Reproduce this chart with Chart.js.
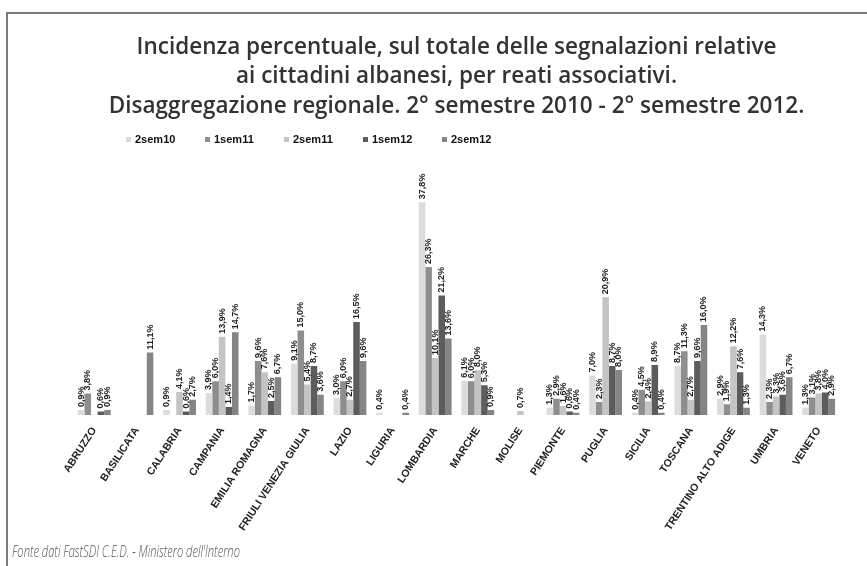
<!DOCTYPE html>
<html>
<head>
<meta charset="utf-8">
<script src="https://cdn.jsdelivr.net/npm/chart.js@4.4.0/dist/chart.umd.min.js"></script>
<style>
  body { margin: 0; background: #fff; }
  #wrap { position: relative; width: 867px; height: 566px; overflow: hidden; }
  #frame { position: absolute; left: 6px; top: 12px; width: 900px; height: 600px;
           border-top: 2px solid #7a7a7a; border-left: 2px solid #7a7a7a; }
  #legend { position: absolute; left: 126px; top: 133px; display: flex; }
  #legend .item { width: 79px; display: flex; align-items: center;
                  font: bold 11px "Liberation Sans", Arial, sans-serif; color: #111; }
  #legend .box { width: 5px; height: 5px; margin-right: 4px; }
  #source { position: absolute; left: 12px; top: 540px; color: #555;
            font: italic 300 16px "Open Sans", sans-serif; transform-origin: left top;
            transform: scaleX(0.695); white-space: nowrap; }
  canvas { position: absolute; left: 0; top: 0; }
</style>
</head>
<body>
<div id="wrap">
  <div id="frame"></div>
  <canvas id="chart" width="867" height="566"></canvas>
  <div id="legend"></div>
  <div id="source">Fonte dati FastSDI C.E.D. - Ministero dell'Interno</div>
</div>
<script>
// ---- DATA ----
const regions = ["ABRUZZO", "BASILICATA", "CALABRIA", "CAMPANIA", "EMILIA ROMAGNA",
  "FRIULI VENEZIA GIULIA", "LAZIO", "LIGURIA", "LOMBARDIA", "MARCHE", "MOLISE",
  "PIEMONTE", "PUGLIA", "SICILIA", "TOSCANA", "TRENTINO ALTO ADIGE", "UMBRIA", "VENETO"];

const seriesNames = ["2sem10", "1sem11", "2sem11", "1sem12", "2sem12"];

const sem2_10 = [0.9, 0, 0.9, 3.9, 1.7, 9.1, 3.0, 0.4, 37.8, 6.1, 0, 1.3, 7.0, 0.4, 8.7, 2.9, 14.3, 1.3];
const sem1_11 = [3.8, 0, 0, 6.0, 9.6, 15.0, 6.0, 0, 26.3, 6.0, 0, 2.9, 2.3, 4.5, 11.3, 1.9, 2.3, 3.1];
const sem2_11 = [0, 0, 4.1, 13.9, 7.6, 5.4, 2.7, 0, 10.1, 8.0, 0.7, 1.6, 20.9, 2.4, 2.7, 12.2, 3.3, 3.8];
const sem1_12 = [0.6, 0, 0.6, 1.4, 2.5, 8.7, 16.5, 0, 21.2, 5.3, 0, 0.6, 8.7, 8.9, 9.6, 7.6, 3.6, 4.0];
const sem2_12 = [0.9, 11.1, 2.7, 14.7, 6.7, 3.6, 9.6, 0.4, 13.6, 0.9, 0, 0.4, 8.0, 0.4, 16.0, 1.3, 6.7, 2.9];

const seriesColors = ["#dcdcdc", "#8e8e8e", "#c4c4c4", "#5c5c5c", "#858585"];

const allSeries = [sem2_10, sem1_11, sem2_11, sem1_12, sem2_12];

// ---- LEGEND ----
const legend = document.getElementById("legend");
seriesNames.forEach((name, i) => {
  legend.innerHTML += `<div class="item"><span class="box" style="background:${seriesColors[i]}"></span>${name}</div>`;
});

// ---- VALUE LABELS ----
const valueLabels = {
  id: "valueLabels",
  afterDatasetsDraw(chart) {
    const ctx = chart.ctx;
    ctx.save();
    ctx.font = "bold 9px 'Liberation Sans', Arial, sans-serif";
    ctx.fillStyle = "#222";
    ctx.textAlign = "left";
    ctx.textBaseline = "middle";
    chart.data.datasets.forEach((ds, di) => {
      const meta = chart.getDatasetMeta(di);
      meta.data.forEach((bar, i) => {
        const v = ds.data[i];
        if (!v) return;
        ctx.save();
        ctx.translate(bar.x, bar.y - 3);
        ctx.rotate(-Math.PI / 2);
        ctx.fillText(v.toFixed(1).replace(".", ",") + "%", 0, 0);
        ctx.restore();
      });
    });
    ctx.restore();
  }
};

// ---- CHART ----
const chart = new Chart(document.getElementById("chart"), {
  type: "bar",
  data: {
    labels: regions,
    datasets: seriesNames.map((name, i) => ({
      label: name,
      data: allSeries[i],
      backgroundColor: seriesColors[i],
      categoryPercentage: 0.77,
      barPercentage: 1.0
    }))
  },
  options: {
    responsive: false,
    animation: false,
    layout: { padding: { left: 73, right: 27, top: 0, bottom: 11 } },
    plugins: {
      legend: { display: false },
      tooltip: { enabled: false },
      title: {
        display: true,
        text: ["Incidenza percentuale, sul totale delle segnalazioni relative",
               "ai cittadini albanesi, per reati associativi.",
               "Disaggregazione regionale. 2° semestre 2010 - 2° semestre 2012."],
        color: "#333",
        font: { family: "'Open Sans', sans-serif", size: 22.5, weight: "600", lineHeight: 1.3 },
        padding: { top: 33, bottom: 69 }
      }
    },
    scales: {
      x: {
        grid: { display: false },
        border: { display: false },
        ticks: {
          autoSkip: false,
          minRotation: 57,
          maxRotation: 57,
          padding: 2,
          color: "#222",
          font: { family: "'Liberation Sans', Arial, sans-serif", size: 10.5, weight: "bold" }
        },
        afterFit(scale) { scale.height = 140; }
      },
      y: {
        display: false,
        min: 0,
        max: 40
      }
    }
  },
  plugins: [valueLabels]
});
</script>
</body>
</html>
